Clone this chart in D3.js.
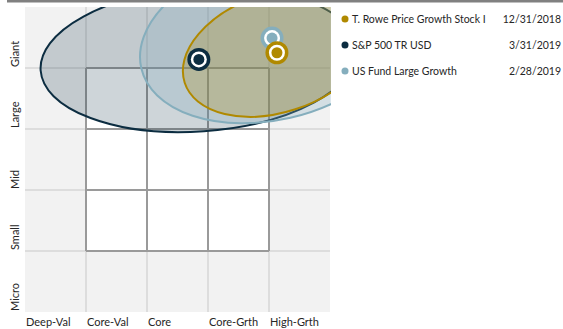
<!DOCTYPE html>
<html>
<head>
<meta charset="utf-8">
<script src="https://cdn.jsdelivr.net/npm/d3@7"></script>
<style>
  body { margin: 0; background: #fff; }
  text { font-family: Lato, "Open Sans", sans-serif; fill: #262626; }
</style>
</head>
<body>
<div id="chart"></div>
<script>
// style box axes
const styleLabels = ["Deep-Val", "Core-Val", "Core", "Core-Grth", "High-Grth"];
const sizeLabels = ["Micro", "Small", "Mid", "Large", "Giant"];

// series: name, date, centroid (style score, size score), ownership zone
const seriesNames = ["US Fund Large Growth", "S&P 500 TR USD", "T. Rowe Price Growth Stock I"];
const legendOrder = ["T. Rowe Price Growth Stock I", "S&P 500 TR USD", "US Fund Large Growth"];
const seriesDates = {"T. Rowe Price Growth Stock I": "12/31/2018", "S&P 500 TR USD": "3/31/2019", "US Fund Large Growth": "2/28/2019"};
const seriesColors = {"T. Rowe Price Growth Stock I": "#b08900", "S&P 500 TR USD": "#0c2d41", "US Fund Large Growth": "#85aebd"};
const centroidX = {"T. Rowe Price Growth Stock I": 4.13, "S&P 500 TR USD": 2.85, "US Fund Large Growth": 4.05};
const centroidY = {"T. Rowe Price Growth Stock I": 4.25, "S&P 500 TR USD": 4.14, "US Fund Large Growth": 4.49};
const zoneRx = {"T. Rowe Price Growth Stock I": 1.59, "S&P 500 TR USD": 2.60, "US Fund Large Growth": 2.20};
const zoneRy = {"T. Rowe Price Growth Stock I": 0.975, "S&P 500 TR USD": 1.18, "US Fund Large Growth": 1.34};
const zoneTilt = {"T. Rowe Price Growth Stock I": 18, "S&P 500 TR USD": 4, "US Fund Large Growth": 13};
const zoneOpacity = {"T. Rowe Price Growth Stock I": 0.25, "S&P 500 TR USD": 0.2, "US Fund Large Growth": 0.28};
const zoneOrder = ["S&P 500 TR USD", "US Fund Large Growth", "T. Rowe Price Growth Stock I"];

const width = 563, height = 329;
const plot = {left: 25, right: 330, top: 7, bottom: 312};

const svg = d3.select("#chart").append("svg")
    .attr("width", width)
    .attr("height", height);

// top rule
svg.append("rect")
    .attr("x", 7).attr("y", 0)
    .attr("width", width - 7).attr("height", 2.5)
    .attr("fill", "#808080");

const x = d3.scaleLinear().domain([0, 5]).range([plot.left, plot.right]);
const y = d3.scaleLinear().domain([0, 5]).range([plot.bottom, plot.top]);
const ticks = d3.range(0, 6);

// background
svg.append("rect")
    .attr("x", x(0)).attr("y", y(5))
    .attr("width", x(5) - x(0)).attr("height", y(0) - y(5))
    .attr("fill", "#f2f2f2");

svg.append("rect")
    .attr("x", x(1)).attr("y", y(4))
    .attr("width", x(4) - x(1)).attr("height", y(1) - y(4))
    .attr("fill", "#fff");

// light outer grid
const grid = svg.append("g").attr("class", "grid");
grid.selectAll(".vline")
    .data(ticks.slice(1, 5))
    .join("line")
    .attr("class", "vline")
    .attr("x1", d => x(d)).attr("x2", d => x(d))
    .attr("y1", y(5)).attr("y2", y(0))
    .attr("stroke", "#d6d6d6").attr("stroke-width", 1.5);

grid.selectAll(".hline")
    .data(ticks.slice(1, 5))
    .join("line")
    .attr("class", "hline")
    .attr("x1", x(0)).attr("x2", x(5))
    .attr("y1", d => y(d)).attr("y2", d => y(d))
    .attr("stroke", "#d6d6d6").attr("stroke-width", 1.5);

// inner 3x3 box
const inner = d3.range(1, 5);
grid.selectAll(".ivline")
    .data(inner)
    .join("line")
    .attr("class", "ivline")
    .attr("x1", d => x(d)).attr("x2", d => x(d))
    .attr("y1", y(4)).attr("y2", y(1))
    .attr("stroke", "#9a9a9a").attr("stroke-width", 2);

grid.selectAll(".ihline")
    .data(inner)
    .join("line")
    .attr("class", "ihline")
    .attr("x1", x(1)).attr("x2", x(4))
    .attr("y1", d => y(d)).attr("y2", d => y(d))
    .attr("stroke", "#9a9a9a").attr("stroke-width", 2);

// ownership zones, clipped to the plot
svg.append("clipPath").attr("id", "plotClip")
    .append("rect")
    .attr("x", x(0)).attr("y", y(5))
    .attr("width", x(5) - x(0) + 1).attr("height", y(0) - y(5));

const zones = svg.append("g").attr("clip-path", "url(#plotClip)");
const kx = x(1) - x(0), ky = y(0) - y(1);

zones.selectAll("ellipse")
    .data(zoneOrder)
    .join("ellipse")
    .attr("transform", d => `translate(${x(centroidX[d])},${y(centroidY[d])}) rotate(${-zoneTilt[d]})`)
    .attr("rx", d => zoneRx[d] * kx)
    .attr("ry", d => zoneRy[d] * ky)
    .attr("fill", d => seriesColors[d])
    .attr("fill-opacity", d => zoneOpacity[d])
    .attr("stroke", d => seriesColors[d])
    .attr("stroke-width", 2);

// centroids
const marks = svg.append("g").selectAll("g")
    .data(["S&P 500 TR USD", "US Fund Large Growth", "T. Rowe Price Growth Stock I"])
    .join("g")
    .attr("transform", d => `translate(${x(centroidX[d])},${y(centroidY[d])})`);

marks.append("circle").attr("r", 11.5).attr("fill", d => seriesColors[d]);
marks.append("circle").attr("r", 8).attr("fill", "#fff");
marks.append("circle").attr("r", 5.5).attr("fill", d => seriesColors[d]);

// axis labels
svg.append("g").selectAll("text")
    .data(styleLabels)
    .join("text")
    .attr("x", (d, i) => x(i) + 1)
    .attr("y", 326)
    .attr("font-size", 11)
    .text(d => d);

svg.append("g").selectAll("text")
    .data(sizeLabels)
    .join("text")
    .attr("transform", (d, i) => `translate(19,${y(i) - 1}) rotate(-90)`)
    .attr("font-size", 11)
    .text(d => d);

// legend
const legend = svg.append("g").selectAll("g")
    .data(legendOrder)
    .join("g")
    .attr("transform", (d, i) => `translate(0,${19 + i * 26})`);

legend.append("circle")
    .attr("cx", 345).attr("cy", 0).attr("r", 3.5)
    .attr("fill", d => seriesColors[d]);

legend.append("text")
    .attr("x", 352).attr("y", 4)
    .attr("font-size", 10.5)
    .text(d => d);

legend.append("text")
    .attr("x", 561).attr("y", 4)
    .attr("text-anchor", "end")
    .attr("font-size", 10.5)
    .text(d => seriesDates[d]);
</script>
</body>
</html>
